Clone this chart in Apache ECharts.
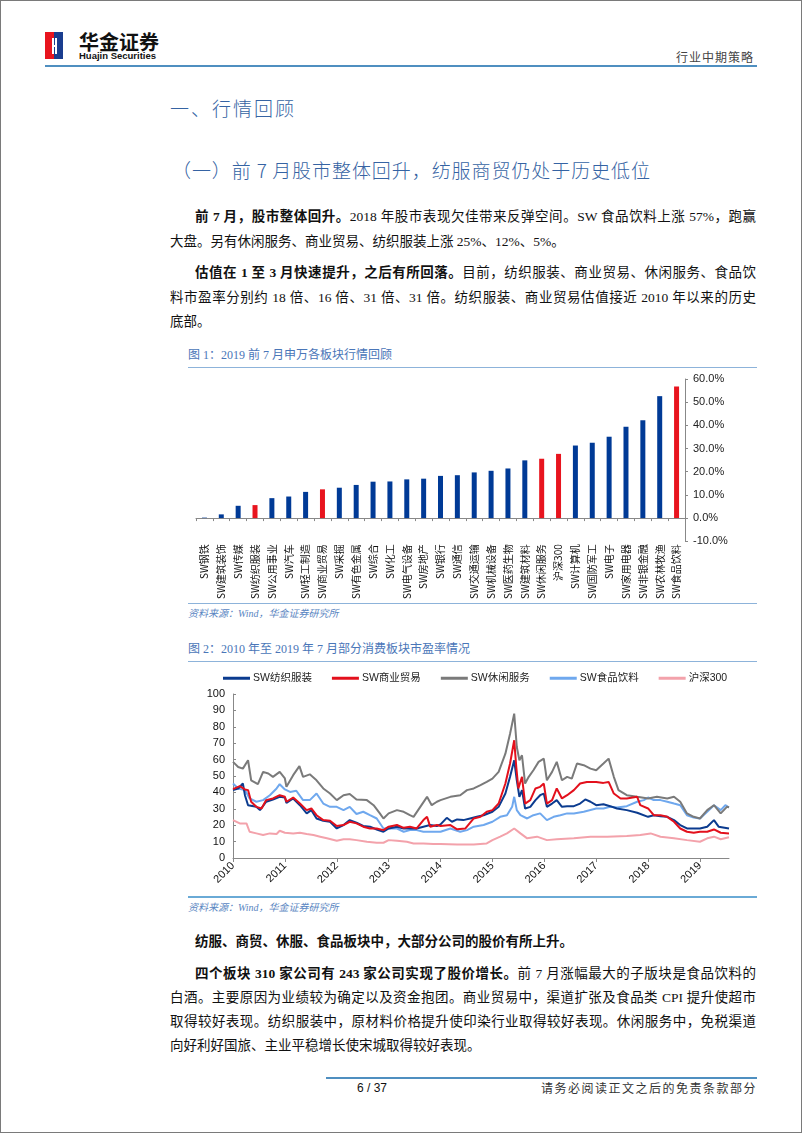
<!DOCTYPE html>
<html><head><meta charset="utf-8">
<script src="https://cdn.jsdelivr.net/npm/echarts@6/dist/echarts.min.js"></script>
<style>
html,body{margin:0;padding:0;background:#fff;}
body{width:802px;height:1133px;position:relative;overflow:hidden;font-family:"Liberation Serif","Noto Sans CJK SC",serif;}
.a{position:absolute;white-space:nowrap;}
.frame{position:absolute;left:0;top:0;width:800px;height:1131px;border:1px solid #7a7a7a;}
.line{position:absolute;}
.p{position:absolute;left:170px;width:586px;font-size:13.5px;line-height:20px;color:#111;white-space:nowrap;}
.j{text-align:justify;text-align-last:justify;}
.h{color:#3563a3;font-family:"Noto Sans CJK SC",sans-serif;font-weight:300;}
.ft{position:absolute;left:188px;font-size:12px;line-height:16px;color:#4a76b8;font-family:"Liberation Serif","Noto Sans CJK SC",serif;}
.src{position:absolute;left:188px;font-size:10px;line-height:14px;color:#5a86c2;font-style:italic;}
b{font-weight:bold;}
</style></head>
<body>
<div class="frame"></div>
<!-- logo -->
<div class="a" style="left:45px;top:32px;width:9px;height:27px;background:#e8141e;"></div>
<div class="a" style="left:54px;top:32px;width:9px;height:27px;background:#1a3d8f;"></div>
<div class="a" style="left:52px;top:38px;width:2px;height:16px;background:#fff;"></div>
<div class="a" style="left:55px;top:38px;width:2px;height:16px;background:#fff;"></div>
<div class="a" style="left:52px;top:45px;width:5px;height:2px;background:#fff;"></div>
<div class="a" style="left:79px;top:31px;font-size:20px;line-height:21px;font-weight:bold;font-family:'Noto Sans CJK SC',sans-serif;color:#111;letter-spacing:0px;">华金证券</div>
<div class="a" style="left:79px;top:50px;font-size:9.5px;line-height:11px;font-weight:bold;font-family:'Liberation Sans',sans-serif;color:#111;">Huajin Securities</div>
<div class="a" style="right:48px;top:49px;font-size:12px;line-height:16px;color:#444;font-family:'Noto Sans CJK SC',sans-serif;letter-spacing:1px;">行业中期策略</div>
<div class="line" style="left:45px;top:65px;width:712px;height:2px;background:#4f8fc0;"></div>

<div class="a h" style="left:170px;top:95px;font-size:19px;line-height:26px;letter-spacing:2px;">一、行情回顾</div>
<div class="a h j" style="left:172px;top:157px;width:478px;font-size:19px;line-height:26px;">（一）前 7 月股市整体回升，纺服商贸仍处于历史低位</div>

<div class="p j" style="top:207px;text-indent:25px;"><b>前 7 月，股市整体回升。</b>2018 年股市表现欠佳带来反弹空间。SW 食品饮料上涨 57%，跑赢</div>
<div class="p" style="top:232px;">大盘。另有休闲服务、商业贸易、纺织服装上涨 25%、12%、5%。</div>
<div class="p j" style="top:263px;text-indent:25px;"><b>估值在 1 至 3 月快速提升，之后有所回落。</b>目前，纺织服装、商业贸易、休闲服务、食品饮</div>
<div class="p j" style="top:288px;">料市盈率分别约 18 倍、16 倍、31 倍、31 倍。纺织服装、商业贸易估值接近 2010 年以来的历史</div>
<div class="p" style="top:312px;">底部。</div>

<div class="ft" style="top:347px;">图 1：2019 前 7 月申万各板块行情回顾</div>
<div class="line" style="left:188px;top:367px;width:569px;height:1px;background:#8db3da;"></div>
<div id="c1" class="a" style="left:188px;top:370px;width:570px;height:232px;"></div>
<div class="line" style="left:188px;top:603px;width:569px;height:1px;background:#8db3da;"></div>
<div class="src" style="top:607px;">资料来源：Wind，华金证券研究所</div>

<div class="ft" style="top:641px;">图 2：2010 年至 2019 年 7 月部分消费板块市盈率情况</div>
<div class="line" style="left:188px;top:661px;width:569px;height:1px;background:#8db3da;"></div>
<div id="c2" class="a" style="left:188px;top:665px;width:570px;height:230px;"></div>
<div class="line" style="left:188px;top:896px;width:569px;height:2px;background:#6aaad6;"></div>
<div class="src" style="top:901px;">资料来源：Wind，华金证券研究所</div>

<div class="p" style="top:932px;text-indent:25px;"><b>纺服、商贸、休服、食品板块中，大部分公司的股价有所上升。</b></div>
<div class="p j" style="top:964px;text-indent:25px;"><b>四个板块 310 家公司有 243 家公司实现了股价增长。</b>前 7 月涨幅最大的子版块是食品饮料的</div>
<div class="p j" style="top:988px;">白酒。主要原因为业绩较为确定以及资金抱团。商业贸易中，渠道扩张及食品类 CPI 提升使超市</div>
<div class="p j" style="top:1012px;">取得较好表现。纺织服装中，原材料价格提升使印染行业取得较好表现。休闲服务中，免税渠道</div>
<div class="p" style="top:1036px;">向好利好国旅、主业平稳增长使宋城取得较好表现。</div>

<div class="line" style="left:326px;top:1077px;width:431px;height:2px;background:#4f8fc0;"></div>
<div class="a" style="left:357px;top:1080px;font-size:12px;line-height:16px;font-family:'Liberation Sans',sans-serif;color:#111;">6 / 37</div>
<div class="a" style="right:45px;top:1080px;font-size:12px;line-height:16px;color:#333;font-family:'Noto Sans CJK SC',sans-serif;letter-spacing:1.5px;">请务必阅读正文之后的免责条款部分</div>

<script>
// ---------- Figure 1 data ----------
const sectors = ['SW钢铁','SW建筑装饰','SW传媒','SW纺织服装','SW公用事业','SW汽车','SW轻工制造','SW商业贸易','SW采掘','SW有色金属','SW综合','SW化工','SW电气设备','SW房地产','SW银行','SW通信','SW交通运输','SW机械设备','SW医药生物','SW建筑材料','SW休闲服务','沪深300','SW计算机','SW国防军工','SW电子','SW家用电器','SW非银金融','SW农林牧渔','SW食品饮料'];
const sectorReturns = [0.2,1.6,5.3,5.6,8.6,9.3,11.3,12.4,13.1,14.3,15.7,15.8,16.7,17.0,18.2,18.5,19.7,20.4,21.4,24.9,25.6,27.7,31.3,32.5,35.1,39.4,42.2,52.6,56.8];
const highlighted = ['SW纺织服装','SW商业贸易','SW休闲服务','沪深300','SW食品饮料'];
const pctTicks = [-10,0,10,20,30,40,50,60];

// ---------- Figure 2 data ([year, PE]) ----------
const yearTicks = [2010,2011,2012,2013,2014,2015,2016,2017,2018,2019];
const peTextile = [[2010.00,41.4],[2010.10,42.4],[2010.19,45.4],[2010.23,38.3],[2010.29,32.2],[2010.45,31.2],[2010.52,29.2],[2010.64,34.3],[2010.77,35.7],[2010.90,37.3],[2011.00,36.9],[2011.03,33.6],[2011.16,36.3],[2011.29,32.2],[2011.42,27.2],[2011.51,29.2],[2011.61,24.1],[2011.74,22.7],[2011.87,22.1],[2012.00,18],[2012.13,20.1],[2012.25,23.1],[2012.38,21.5],[2012.51,19.5],[2012.64,19.1],[2012.77,17.4],[2012.90,16],[2013.00,18],[2013.16,19.1],[2013.29,18],[2013.41,18],[2013.54,18],[2013.67,19.1],[2013.80,20.1],[2013.93,19.5],[2014.00,20.5],[2014.12,24.5],[2014.22,22.1],[2014.32,23.5],[2014.44,23.1],[2014.57,24.1],[2014.70,25.1],[2014.83,26.1],[2015.00,28.2],[2015.12,31.2],[2015.25,39.3],[2015.34,49.5],[2015.42,59.6],[2015.47,47.4],[2015.52,37.3],[2015.57,41.4],[2015.63,30.2],[2015.73,31.2],[2015.83,35.3],[2015.92,38.3],[2015.99,39.3],[2016.05,31.2],[2016.15,33.2],[2016.24,35.3],[2016.34,31.2],[2016.44,31.6],[2016.57,31.6],[2016.69,33.2],[2016.79,35.7],[2016.89,34.3],[2017.00,32.2],[2017.14,32.8],[2017.27,31.6],[2017.40,30.2],[2017.59,29.2],[2017.79,27.6],[2018.00,25.1],[2018.11,26.1],[2018.24,25.5],[2018.37,25.1],[2018.50,23.1],[2018.62,20.1],[2018.75,18],[2018.88,18],[2019.00,18],[2019.14,19.1],[2019.27,23.1],[2019.36,19.1],[2019.56,18]];
const peCommerce = [[2010.00,42],[2010.13,43.8],[2010.23,41.8],[2010.29,41.4],[2010.35,34.3],[2010.45,31.2],[2010.55,30.2],[2010.64,35.3],[2010.77,36.3],[2010.90,38.3],[2011.00,37.3],[2011.03,34.3],[2011.16,36.9],[2011.29,33.2],[2011.42,29.2],[2011.51,30.2],[2011.61,26.1],[2011.74,23.1],[2011.87,22.7],[2012.00,19.5],[2012.13,20.1],[2012.25,22.1],[2012.38,21.1],[2012.51,19.1],[2012.64,18],[2012.77,18],[2012.90,17],[2013.00,19.1],[2013.16,20.1],[2013.29,18.4],[2013.41,19.1],[2013.54,18],[2013.67,23.1],[2013.74,25.1],[2013.80,19.1],[2013.93,20.1],[2014.00,19.5],[2014.19,20.1],[2014.32,17.5],[2014.48,18],[2014.64,24.1],[2014.77,25.1],[2014.89,28.2],[2015.00,29.2],[2015.12,33.2],[2015.25,45.4],[2015.34,57.6],[2015.42,71.8],[2015.46,55.5],[2015.50,42.4],[2015.57,49.5],[2015.63,33.2],[2015.73,35.3],[2015.83,42.4],[2015.92,43.4],[2015.99,45.4],[2016.05,33.2],[2016.15,35.3],[2016.24,42.4],[2016.34,36.3],[2016.44,38.3],[2016.57,41.4],[2016.69,45.4],[2016.82,46.4],[2017.00,46.4],[2017.14,45.8],[2017.24,46.4],[2017.34,39.3],[2017.47,36.3],[2017.59,36.3],[2017.79,37.3],[2017.85,32.2],[2018.00,30.2],[2018.11,26.1],[2018.24,26.1],[2018.37,25.1],[2018.50,22.1],[2018.62,18],[2018.75,16],[2018.88,15.4],[2019.00,16],[2019.14,16],[2019.27,17.4],[2019.40,15.4],[2019.56,15]];
const peLeisure = [[2010.00,58.6],[2010.10,55.5],[2010.19,54.5],[2010.29,59.6],[2010.35,47.4],[2010.48,45],[2010.58,52.5],[2010.68,51.5],[2010.77,49.5],[2010.90,52.5],[2011.00,48.5],[2011.03,43.4],[2011.16,50.5],[2011.28,56],[2011.35,49.5],[2011.48,51],[2011.61,47.4],[2011.74,42.4],[2011.87,39.3],[2012.00,35.3],[2012.13,38.3],[2012.25,39],[2012.38,35.7],[2012.58,35.3],[2012.71,32.2],[2012.83,27.2],[2012.90,24.1],[2013.00,27.2],[2013.16,29.2],[2013.29,28.2],[2013.41,26.1],[2013.48,25.1],[2013.61,31.2],[2013.74,37.3],[2013.83,32.2],[2013.93,34.3],[2014.00,35.3],[2014.19,37.3],[2014.38,38.3],[2014.51,41.4],[2014.64,42.4],[2014.77,44.4],[2014.89,46.4],[2015.00,48.4],[2015.12,52.5],[2015.25,63.6],[2015.34,75.8],[2015.42,88],[2015.47,67.7],[2015.52,59.6],[2015.57,62.6],[2015.63,45.4],[2015.70,49.5],[2015.79,53.5],[2015.89,58.6],[2015.99,60.6],[2016.05,47.4],[2016.15,52.5],[2016.24,58.6],[2016.34,47.4],[2016.44,49.5],[2016.53,48.4],[2016.63,57.6],[2016.76,56.6],[2016.89,54.5],[2017.00,53.5],[2017.14,57.6],[2017.24,60.6],[2017.34,49.5],[2017.43,41.4],[2017.59,38.3],[2017.79,37.3],[2018.00,36.3],[2018.17,37.3],[2018.37,36.3],[2018.50,37.3],[2018.62,34.3],[2018.75,27.2],[2018.88,25.1],[2019.00,24.1],[2019.14,29.2],[2019.27,32.2],[2019.40,27.2],[2019.52,31.2],[2019.56,31]];
const peFood = [[2010.00,45.4],[2010.10,42.4],[2010.23,41.4],[2010.32,36.3],[2010.45,34.3],[2010.58,35.3],[2010.71,38.3],[2010.84,42.4],[2010.90,45],[2011.00,41.8],[2011.10,40.3],[2011.22,41],[2011.35,35.3],[2011.48,35.3],[2011.61,39.3],[2011.74,33.2],[2011.87,31.2],[2012.00,31.2],[2012.13,29.2],[2012.25,31.2],[2012.38,26.8],[2012.51,28.2],[2012.64,26.1],[2012.77,24.1],[2012.90,18],[2013.00,18],[2013.16,18],[2013.29,16],[2013.41,17],[2013.54,17],[2013.67,16],[2013.80,16],[2013.93,16],[2014.00,16],[2014.19,18],[2014.38,16],[2014.51,17],[2014.64,19.1],[2014.83,20.1],[2015.00,22.1],[2015.15,25.1],[2015.28,26.1],[2015.38,31.2],[2015.42,37.3],[2015.47,29.2],[2015.54,26.1],[2015.67,24.1],[2015.79,26.1],[2015.92,27.2],[2016.05,23.1],[2016.18,25.1],[2016.31,26.1],[2016.44,27.2],[2016.57,27.2],[2016.76,28.2],[2017.00,30.2],[2017.14,30.2],[2017.27,31.2],[2017.40,30.8],[2017.59,31.6],[2017.79,34.3],[2017.92,35.3],[2018.00,36.9],[2018.11,35.3],[2018.24,35.3],[2018.37,34.3],[2018.50,33.2],[2018.62,32.2],[2018.75,26.1],[2018.88,24.7],[2019.00,24.1],[2019.14,28.2],[2019.27,32.2],[2019.40,29.2],[2019.49,32.2],[2019.56,30.8]];
const peHS300 = [[2010.00,23.1],[2010.13,21.1],[2010.26,21.1],[2010.32,16],[2010.45,15],[2010.58,14],[2010.71,15],[2010.84,14.6],[2010.90,16.6],[2011.00,15.4],[2011.16,15],[2011.29,15.4],[2011.42,14.6],[2011.55,14],[2011.68,13],[2011.81,12],[2012.00,10.5],[2012.13,11.4],[2012.25,11.4],[2012.38,10.9],[2012.58,9.9],[2012.77,9.3],[2012.90,9.3],[2013.00,10.9],[2013.16,10.5],[2013.35,9.9],[2013.48,8.9],[2013.67,8.9],[2013.86,8.5],[2014.00,8.5],[2014.32,8.3],[2014.64,8.3],[2014.89,8.9],[2015.00,10.9],[2015.15,13],[2015.28,15],[2015.42,18],[2015.54,15],[2015.67,12],[2015.86,13],[2016.05,10.9],[2016.24,11.4],[2016.57,12],[2016.89,13],[2017.21,13],[2017.59,13.4],[2017.85,14],[2018.05,15],[2018.24,13],[2018.50,12],[2018.75,10.9],[2019.00,9.9],[2019.14,12],[2019.27,13],[2019.40,11.4],[2019.56,12.6]];
const seriesNames = ['SW纺织服装','SW商业贸易','SW休闲服务','SW食品饮料','沪深300'];
const seriesColors = ['#0b3b8f','#e3101c','#7a7a7a','#6fa8ee','#f3a2ab'];

const BLUE = '#003a96', RED = '#e8141e';
const c1 = echarts.init(document.getElementById('c1'), null, {renderer:'canvas'});
c1.setOption({
  animation:false,
  grid:{left:8,right:73,top:9,bottom:51},
  xAxis:{type:'category',data:sectors,
    axisLine:{onZero:true,lineStyle:{color:'#888',width:1}},
    axisTick:{show:true,length:3,lineStyle:{color:'#888'}},
    axisLabel:{rotate:90,interval:0,fontSize:10,color:'#111',margin:3,fontFamily:'Noto Sans CJK SC'}},
  yAxis:{type:'value',position:'right',min:-10,max:60,interval:10,
    splitLine:{show:false},
    axisLine:{show:true,lineStyle:{color:'#888'}},
    axisTick:{show:true,length:3,lineStyle:{color:'#888'}},
    axisLabel:{formatter:v=>v.toFixed(1)+'%',fontSize:11,color:'#222',margin:8,fontFamily:'Liberation Sans'}},
  series:[{type:'bar',barWidth:5,
    data:sectorReturns.map((v,i)=>({value:v,itemStyle:{color:highlighted.includes(sectors[i])?RED:BLUE}}))}]
});

const c2 = echarts.init(document.getElementById('c2'), null, {renderer:'canvas'});
const peData = [peTextile,peCommerce,peLeisure,peFood,peHS300];
c2.setOption({
  animation:false,
  legend:{left:35,top:8,width:560,padding:0,itemWidth:27,itemHeight:3,itemGap:20,icon:'rect',
    textStyle:{fontSize:10.5,color:'#222',fontFamily:'Liberation Sans, Noto Sans CJK SC',padding:[0,0,0,-2]},
    data:seriesNames},
  grid:{left:45,right:29,top:29,bottom:37},
  xAxis:{type:'value',min:2010,max:2019.56,interval:1,
    splitLine:{show:false},
    axisLine:{lineStyle:{color:'#888'}},
    axisTick:{show:true,length:4,lineStyle:{color:'#888'}},
    axisLabel:{rotate:45,fontSize:11,color:'#111',margin:6,showMaxLabel:false,fontFamily:'Liberation Sans',
      formatter:v=>yearTicks.includes(Math.round(v)) && Math.abs(v-Math.round(v))<1e-6 ? String(Math.round(v)) : ''}},
  yAxis:{type:'value',min:0,max:100,interval:10,
    splitLine:{show:false},
    axisLine:{show:true,lineStyle:{color:'#888'}},
    axisTick:{show:true,inside:true,length:3,lineStyle:{color:'#888'}},
    axisLabel:{fontSize:11,color:'#111',margin:8,fontFamily:'Liberation Sans'}},
  series:seriesNames.map((n,i)=>({name:n,type:'line',data:peData[i],showSymbol:false,symbol:'none',
    lineStyle:{width:2,color:seriesColors[i]},itemStyle:{color:seriesColors[i]},z:[3,4,2,1,0][i]+2}))
});
</script>
</body></html>
